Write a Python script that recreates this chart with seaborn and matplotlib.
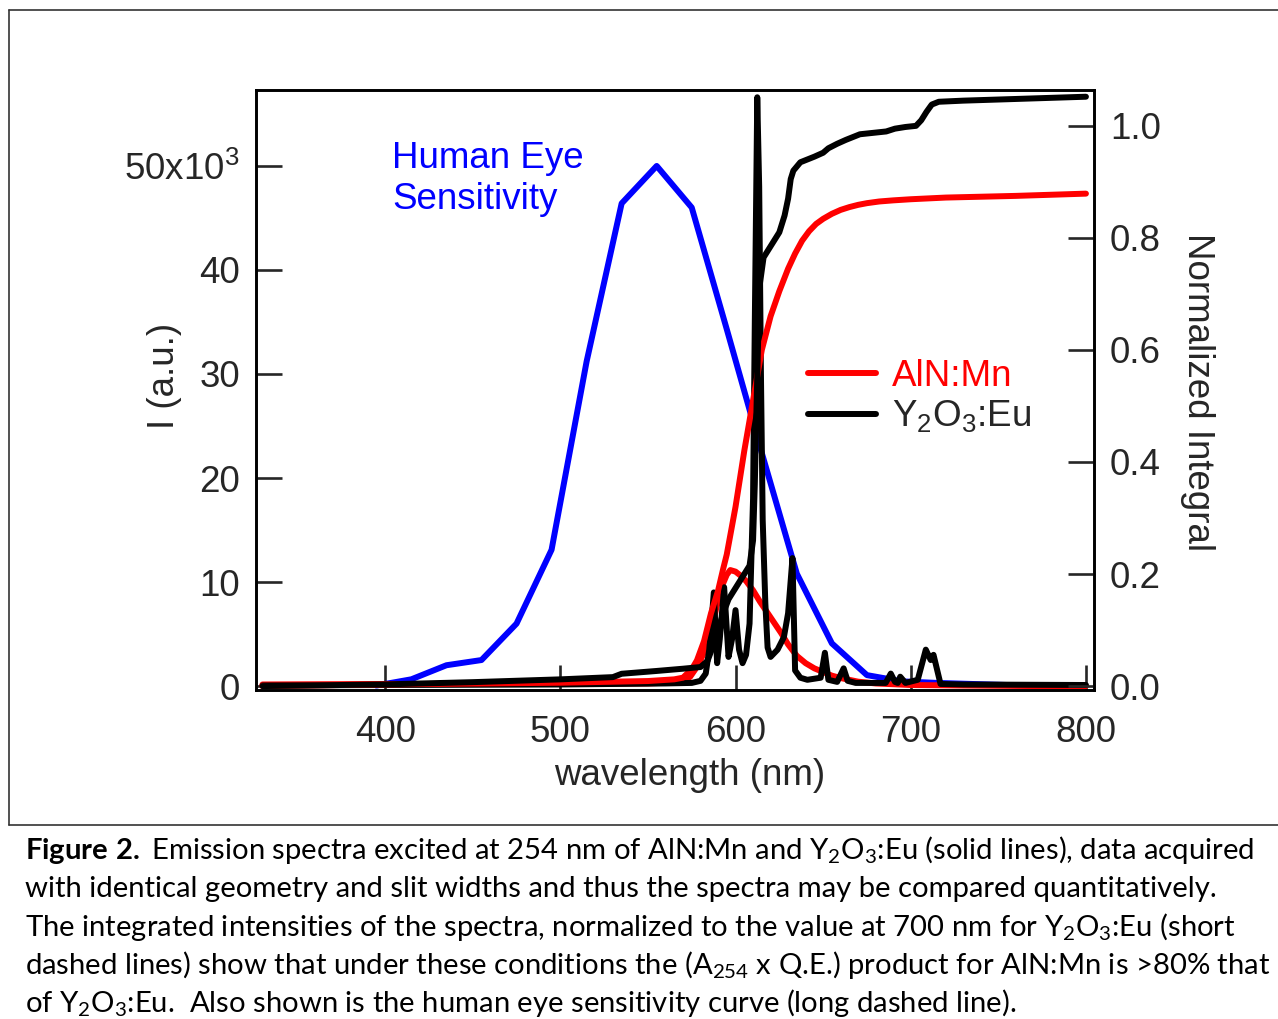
import matplotlib
matplotlib.use("Agg")
import matplotlib.pyplot as plt
import seaborn as sns
from matplotlib.lines import Line2D

# ---- data ----
# human eye sensitivity (left axis, x10^3)
eye_wl = [395, 415, 435, 455, 475, 495, 515, 535, 555, 575, 595, 615, 635, 655, 675, 695, 715, 735, 755, 775]
eye_val = [0.05, 0.65, 2.0, 2.5, 6.0, 13.1, 31.2, 46.4, 50.0, 46.0, 34.3, 22.4, 10.8, 4.1, 1.05, 0.45, 0.3, 0.2, 0.1, 0.05]

# AlN:Mn emission spectrum (left axis, x10^3)
aln_wl = [330, 400, 500, 550, 565, 570, 574, 577, 580, 583, 586, 589, 592, 595, 597, 600, 603, 606, 610, 614,
          618, 622, 626, 630, 635, 640, 645, 650, 655, 660, 670, 680, 700, 730, 770, 800]
aln_I = [0.15, 0.2, 0.2, 0.25, 0.35, 0.5, 0.87, 1.6, 2.5, 3.6, 5.1, 7.5, 9.5, 10.7, 11.15, 11.0, 10.6, 10.1, 9.2, 8.1,
         7.1, 6.1, 5.1, 4.0, 2.9, 2.2, 1.7, 1.35, 1.0, 0.77, 0.42, 0.25, 0.1, 0.05, 0.0, 0.0]

# Y2O3:Eu emission spectrum (left axis, x10^3)
yox_wl = [330, 400, 500, 560, 575, 580, 583, 585, 587.6, 589.5, 591, 593.5, 596, 598, 600, 602, 604, 606, 608, 610,
          611, 612.4, 613.5, 614.5, 615.5, 617, 618.3, 620, 624, 627.6, 630, 632.5, 634, 637, 641, 648.6, 651, 653,
          658, 661.7, 664, 668.6, 680, 685.7, 688.6, 691, 692.6, 694, 697, 704, 708.6, 711.4, 713, 717, 730, 800]
yox_I = [0.05, 0.1, 0.15, 0.25, 0.3, 0.5, 1.2, 3.5, 9.0, 2.2, 4.5, 9.5, 2.8, 4.5, 7.3, 3.5, 2.2, 3.0, 6.0, 18.0,
         35.0, 56.6, 48.0, 30.0, 16.0, 8.0, 3.7, 2.8, 3.5, 4.7, 7.0, 12.3, 1.5, 0.8, 0.6, 0.8, 3.2, 0.6,
         0.4, 1.7, 0.5, 0.3, 0.3, 0.3, 1.2, 0.4, 0.3, 0.9, 0.3, 0.6, 3.5, 2.5, 3.0, 0.2, 0.15, 0.1]

# normalized integrals (right axis)
aln_int_wl = [330, 400, 500, 550, 565, 570, 575, 578, 582, 586, 590, 593, 595, 600, 605, 610, 615, 620, 625, 630,
              634, 638, 642, 646, 650, 655, 660, 665, 670, 675, 682, 690, 700, 720, 760, 800]
aln_int = [0.0, 0.003, 0.006, 0.009, 0.012, 0.015, 0.03, 0.046, 0.08, 0.13, 0.17, 0.21, 0.235, 0.32, 0.42, 0.51,
           0.6, 0.66, 0.705, 0.745, 0.772, 0.795, 0.812, 0.825, 0.834, 0.843, 0.85, 0.855, 0.859, 0.862, 0.865,
           0.867, 0.869, 0.872, 0.875, 0.879]

yox_int_wl = [330, 400, 450, 500, 530, 535, 555, 570, 580, 584, 587, 590, 593, 596, 600, 604, 608, 610, 611, 612,
              613, 614, 616, 620, 625, 628, 630, 631.5, 633, 637, 645, 650, 653, 658, 663, 671, 680, 686, 691, 697,
              703, 706, 709, 712, 716, 730, 760, 800]
yox_int = [0.0, 0.003, 0.007, 0.012, 0.016, 0.022, 0.027, 0.031, 0.034, 0.045, 0.07, 0.10, 0.13, 0.155, 0.175,
           0.195, 0.215, 0.26, 0.36, 0.5, 0.63, 0.72, 0.765, 0.785, 0.81, 0.84, 0.87, 0.905, 0.92, 0.935, 0.945,
           0.952, 0.96, 0.968, 0.975, 0.985, 0.988, 0.99, 0.995, 0.998, 1.0, 1.01, 1.025, 1.038, 1.043, 1.045,
           1.048, 1.052]

left_ticks = [0, 10, 20, 30, 40, 50]
left_labels = ["0", "10", "20", "30", "40", r"50x10$\mathregular{^{3}}$"]
right_ticks = [0.0, 0.2, 0.4, 0.6, 0.8, 1.0]
x_ticks = [400, 500, 600, 700, 800]

caption = [
    r"$\mathbf{Figure\ 2.}$ Emission spectra excited at 254 nm of AlN:Mn and Y$_2$O$_3$:Eu (solid lines), data acquired",
    "with identical geometry and slit widths and thus the spectra may be compared quantitatively.",
    r"The integrated intensities of the spectra, normalized to the value at 700 nm for Y$_2$O$_3$:Eu (short",
    r"dashed lines) show that under these conditions the (A$_{254}$ x Q.E.) product for AlN:Mn is >80% that",
    r"of Y$_2$O$_3$:Eu.  Also shown is the human eye sensitivity curve (long dashed line).",
]

# ---- style ----
sns.set_style("white")
plt.rcParams["font.family"] = ["Liberation Sans", "DejaVu Sans"]
plt.rcParams["mathtext.fontset"] = "custom"
plt.rcParams["mathtext.rm"] = "Lato"
plt.rcParams["mathtext.bf"] = "Lato:bold"
plt.rcParams["mathtext.it"] = "Lato:italic"

FS = 26.5
W, H = 1278, 1019
fig = plt.figure(figsize=(W / 100, H / 100), dpi=100)
ax = fig.add_axes([256 / W, 1 - 690 / H, (1094 - 256) / W, 600 / H])
ax2 = ax.twinx()

LW = 4.3
sns.lineplot(x=eye_wl, y=eye_val, ax=ax, color="#0000ff", lw=LW, sort=False, estimator=None)
sns.lineplot(x=aln_wl, y=aln_I, ax=ax, color="#ff0000", lw=LW, sort=False, estimator=None)
sns.lineplot(x=yox_wl, y=yox_I, ax=ax, color="black", lw=LW, sort=False, estimator=None)
sns.lineplot(x=aln_int_wl, y=aln_int, ax=ax2, color="#ff0000", lw=LW, sort=False, estimator=None)
sns.lineplot(x=yox_int_wl, y=yox_int, ax=ax2, color="black", lw=LW, sort=False, estimator=None)

ax.set_xlim(326.3, 804.6)
ax.set_ylim(-0.38, 57.3)
ax2.set_ylim(-0.007, 1.064)

ax.set_xticks(x_ticks)
ax.set_yticks(left_ticks)
ax.set_yticklabels(left_labels)
ax2.set_yticks(right_ticks)
ax2.set_yticklabels([f"{v:.1f}" for v in right_ticks])

for a in (ax, ax2):
    for s in a.spines.values():
        s.set_color("black")
        s.set_linewidth(1.9)
    a.grid(False)
ax.tick_params(axis="y", direction="in", length=19, width=1.9, labelsize=FS, pad=11.5, left=True)
ax.tick_params(axis="x", direction="in", length=18, width=1.9, labelsize=FS, pad=18, bottom=True)
ax2.tick_params(axis="y", direction="in", length=19, width=1.9, labelsize=FS, pad=11.5, right=True)

ax.set_xlabel("wavelength (nm)", fontsize=FS, va="baseline")
ax.xaxis.set_label_coords((690 - 256) / 838, (690 - 785) / 600)
ax.set_ylabel("I (a.u.)", fontsize=FS, rotation=90, ha="center", va="center")
ax.yaxis.set_label_coords((165 - 256) / 838, (690 - 376) / 600)
ax2.set_ylabel("Normalized Integral", fontsize=FS, rotation=270, ha="center", va="center")
ax2.yaxis.set_label_coords((1198 - 256) / 838, (690 - 392) / 600)

ax.text(404, 49.8, "Human Eye", color="#0000ff", fontsize=FS, ha="left", va="baseline")
ax.text(404, 45.9, "Sensitivity", color="#0000ff", fontsize=FS, ha="left", va="baseline")

handles = [Line2D([], [], color="#ff0000", lw=LW), Line2D([], [], color="black", lw=LW)]
leg = ax2.legend(handles, ["AlN:Mn", r"$\mathregular{Y_2O_3}$:Eu"], loc="upper left",
                 bbox_to_anchor=(808 / W, 1 - 359 / H), bbox_transform=fig.transFigure,
                 frameon=False, fontsize=FS, handlelength=1.85, handletextpad=0.43,
                 borderpad=0, borderaxespad=0, labelspacing=0.12)
leg.get_texts()[0].set_color("#ff0000")

# frame around the chart and caption separator
fc = "#333333"
fig.add_artist(Line2D([9 / W, 9 / W], [1 - 10 / H, 1 - 825 / H], transform=fig.transFigure, color=fc, lw=1.2))
fig.add_artist(Line2D([9 / W, 1], [1 - 10 / H, 1 - 10 / H], transform=fig.transFigure, color=fc, lw=1.2))
fig.add_artist(Line2D([9 / W, 1], [1 - 825 / H, 1 - 825 / H], transform=fig.transFigure, color=fc, lw=1.2))

# caption, sized so the first line spans the same width as in the reference
baselines = [859, 897.5, 936, 974, 1012]
texts = [fig.text(25 / W, 1 - b / H, line, family=["Lato", "DejaVu Sans"], fontsize=20,
                  ha="left", va="baseline", color="black") for line, b in zip(caption, baselines)]
renderer = fig.canvas.get_renderer()
w0 = texts[0].get_window_extent(renderer).width
fs = 20 * (1254 - 25) / w0
for t in texts:
    t.set_fontsize(fs)

fig.savefig("out.png", dpi=100)
